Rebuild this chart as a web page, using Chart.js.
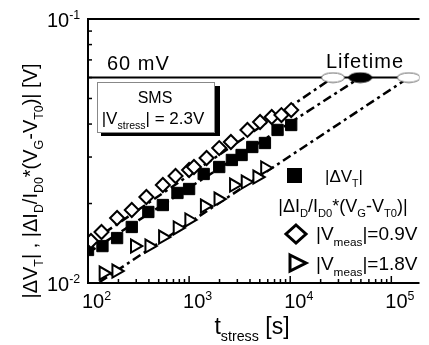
<!DOCTYPE html>
<html>
<head>
<meta charset="utf-8">
<script src="https://cdn.jsdelivr.net/npm/chart.js@4"></script>
<style>
  html, body { margin: 0; padding: 0; background: #fff; }
  #wrap { width: 429px; height: 345px; }
</style>
</head>
<body>
<div id="wrap"><canvas id="chart" width="429" height="345"></canvas></div>
<script>
// stress time [s] and degradation [V]
const tDiamond = [107, 136, 194, 271, 378, 550, 734, 1000, 1117, 1489, 1986, 2590, 3775, 5034, 6566, 8190, 10230];
const vDiamond = [0.01442, 0.0156, 0.01763, 0.0189, 0.02117, 0.0235, 0.02543, 0.0268, 0.0275, 0.02975, 0.03245, 0.0342, 0.038, 0.04073, 0.04254, 0.04327, 0.0452];

const tSquare = [100, 139, 194, 271, 395, 550, 767, 1000, 1394, 1986, 2649, 3305, 4217, 5623, 7499, 10230];
const vSquare = [0.01334, 0.0138, 0.0148, 0.0163, 0.01858, 0.01974, 0.02193, 0.0227, 0.02588, 0.0275, 0.02924, 0.03054, 0.03275, 0.03391, 0.038, 0.03967];

const tTriangle = [142, 190, 290, 403, 550, 767, 1000, 1425, 1943, 2768, 3610, 4710, 5623];
const vTriangle = [0.01091, 0.0111, 0.0138, 0.0138, 0.01493, 0.01616, 0.01733, 0.01957, 0.0208, 0.0235, 0.02413, 0.0252, 0.02728];

// extrapolated fits, ending at the lifetime criterion
const fitDiamondT = [100, 26490];
const fitDiamondV = [0.01406, 0.06];
const fitSquareT = [100, 49230];
const fitSquareV = [0.0130, 0.06];
const fitTriangleT = [130, 148900];
const fitTriangleV = [0.01008, 0.06];

const lifetimeT = [26490, 49230, 148900];
const lifetimeV = [0.06, 0.06, 0.06];
const lifetimeFilled = [false, true, false];

const criterionT = [100, 190000];
const criterionV = [0.06, 0.06];

const xTicks = [100, 1000, 10000, 100000];
const xTickExp = ['2', '3', '4', '5'];
const yTicks = [0.1, 0.01];
const yTickExp = ['-1', '-2'];

const FONT = 'Arial, "Liberation Sans", Helvetica, sans-serif';

const pts = (xs, ys) => xs.map((x, i) => ({ x: x, y: ys[i] }));

function ellipseImg(filled) {
    const c = document.createElement('canvas');
    c.width = 26; c.height = 12;
    const g = c.getContext('2d');
    g.beginPath();
    g.ellipse(13, 6, 11.5, 4.8, 0, 0, Math.PI * 2);
    g.fillStyle = filled ? '#000' : '#fff';
    g.fill();
    g.lineWidth = 1;
    g.strokeStyle = filled ? '#000' : '#666';
    g.stroke();
    return c;
}
const openEllipse = ellipseImg(false);
const fullEllipse = ellipseImg(true);

// draw text with sub/superscripts; parts: [text, mode] mode: 0 normal, 1 sub, 2 sup
function richWidth(ctx, parts, size) {
    let w = 0;
    parts.forEach(p => {
        const s = p[1] ? size * 0.62 : size;
        ctx.font = s + 'px ' + FONT;
        w += ctx.measureText(p[0]).width;
    });
    return w;
}
function drawRich(ctx, parts, x, y, size, align) {
    const w = richWidth(ctx, parts, size);
    let cx = align === 'center' ? x - w / 2 : (align === 'right' ? x - w : x);
    ctx.textBaseline = 'alphabetic';
    ctx.textAlign = 'left';
    parts.forEach(p => {
        const s = p[1] ? size * 0.62 : size;
        ctx.font = s + 'px ' + FONT;
        let dy = 0;
        if (p[1] === 1) dy = size * 0.3;
        if (p[1] === 2) dy = -size * 0.42;
        ctx.fillText(p[0], cx, y + dy);
        cx += ctx.measureText(p[0]).width;
    });
}

const decorations = {
    id: 'decorations',
    afterDraw(chart) {
        const ctx = chart.ctx;
        const xs = chart.scales.x, ys = chart.scales.y;
        const a = chart.chartArea;
        ctx.save();
        ctx.fillStyle = '#000';
        ctx.strokeStyle = '#000';

        // frame: left, bottom, top
        ctx.lineWidth = 2;
        ctx.beginPath();
        ctx.moveTo(a.right, a.top); ctx.lineTo(a.left, a.top);
        ctx.lineTo(a.left, a.bottom); ctx.lineTo(a.right, a.bottom);
        ctx.stroke();

        // x ticks (inside)
        ctx.lineWidth = 1.5;
        for (let d = 2; d <= 5; d++) {
            for (let m = 1; m <= 9; m++) {
                const v = m * Math.pow(10, d);
                if (v > xs.max) continue;
                const px = xs.getPixelForValue(v);
                const len = m === 1 ? 7 : 4;
                ctx.beginPath();
                ctx.moveTo(px, a.bottom); ctx.lineTo(px, a.bottom - len);
                ctx.stroke();
            }
        }
        // y ticks (inside)
        for (let m = 1; m <= 9; m++) {
            const py = ys.getPixelForValue(m * 0.01);
            ctx.beginPath();
            ctx.moveTo(a.left, py); ctx.lineTo(a.left + (m === 1 ? 7 : 4), py);
            ctx.stroke();
        }

        // tick labels
        xTicks.forEach((v, i) => {
            const px = xs.getPixelForValue(v);
            drawRich(ctx, [['10', 0], [xTickExp[i], 2]], px - 6, 308, 20, 'left');
        });
        yTicks.forEach((v, i) => {
            const py = ys.getPixelForValue(v);
            drawRich(ctx, [['10', 0], [yTickExp[i], 2]], 47, py + 8, 20, 'left');
        });

        // axis titles
        drawRich(ctx, [['t', 0], ['stress', 1], [' [s]', 0]], 252, 334, 23, 'center');
        ctx.save();
        ctx.translate(37, 181);
        ctx.rotate(-Math.PI / 2);
        drawRich(ctx, [['|ΔV', 0], ['T', 1], ['| , |ΔI', 0], ['D', 1], ['/I', 0], ['D0', 1], ['*(V', 0], ['G', 1], ['-V', 0], ['T0', 1], [')| [V]', 0]], 0, 0, 20, 'center');
        ctx.restore();

        // annotations
        ctx.letterSpacing = '1px';
        drawRich(ctx, [['60 mV', 0]], 107, 70, 20, 'left');
        drawRich(ctx, [['Lifetime', 0]], 365, 68, 20, 'center');
        ctx.letterSpacing = '0px';

        // SMS box with shadow
        ctx.fillRect(101, 86, 119, 50);
        ctx.fillStyle = '#fff';
        ctx.fillRect(97, 82, 118, 51);
        ctx.strokeStyle = '#888';
        ctx.lineWidth = 1;
        ctx.strokeRect(97.5, 82.5, 117, 50);
        ctx.fillStyle = '#000';
        drawRich(ctx, [['SMS', 0]], 155, 103, 16, 'center');
        drawRich(ctx, [['|V', 0], ['stress', 1], ['| = 2.3V', 0]], 153, 124, 17, 'center');

        // legend
        ctx.fillRect(287, 168, 15, 15);
        drawRich(ctx, [['|ΔV', 0], ['T', 1], ['|', 0]], 325, 182, 17, 'left');
        drawRich(ctx, [['|ΔI', 0], ['D', 1], ['/I', 0], ['D0', 1], ['*(V', 0], ['G', 1], ['-V', 0], ['T0', 1], [')|', 0]], 343, 212, 18, 'center');

        ctx.lineWidth = 3;
        ctx.strokeStyle = '#000';
        ctx.beginPath();
        ctx.moveTo(296, 225); ctx.lineTo(306, 234); ctx.lineTo(296, 243); ctx.lineTo(286, 234); ctx.closePath();
        ctx.stroke();
        drawRich(ctx, [['|V', 0], ['meas', 1], ['|=0.9V', 0]], 316, 240, 19, 'left');

        ctx.beginPath();
        ctx.moveTo(290, 255); ctx.lineTo(306, 263); ctx.lineTo(290, 271); ctx.closePath();
        ctx.stroke();
        drawRich(ctx, [['|V', 0], ['meas', 1], ['|=1.8V', 0]], 316, 270, 19, 'left');

        ctx.restore();
    }
};

const dashDot = [9, 4, 3, 4];

new Chart(document.getElementById('chart'), {
    type: 'scatter',
    data: {
        datasets: [
            {
                data: pts(lifetimeT, lifetimeV),
                pointStyle: lifetimeFilled.map(f => f ? fullEllipse : openEllipse),
                order: 0
            },
            {
                data: pts(tDiamond, vDiamond),
                pointStyle: 'rectRot', pointRadius: 7,
                pointBackgroundColor: '#fff', pointBorderColor: '#000', pointBorderWidth: 2,
                order: 1
            },
            {
                data: pts(tSquare, vSquare),
                pointStyle: 'rect', pointRadius: 8,
                pointBackgroundColor: '#000', pointBorderColor: '#000', pointBorderWidth: 1,
                order: 1
            },
            {
                data: pts(tTriangle, vTriangle),
                pointStyle: 'triangle', pointRotation: 90, pointRadius: 7.5,
                pointBackgroundColor: '#fff', pointBorderColor: '#000', pointBorderWidth: 2,
                order: 1
            },
            {
                data: pts(fitDiamondT, fitDiamondV), showLine: true, pointRadius: 0,
                borderColor: '#000', borderWidth: 2.5, borderDash: dashDot, order: 2
            },
            {
                data: pts(fitSquareT, fitSquareV), showLine: true, pointRadius: 0,
                borderColor: '#000', borderWidth: 2.5, borderDash: dashDot, order: 2
            },
            {
                data: pts(fitTriangleT, fitTriangleV), showLine: true, pointRadius: 0,
                borderColor: '#000', borderWidth: 2.5, borderDash: dashDot, order: 2
            },
            {
                data: pts(criterionT, criterionV), showLine: true, pointRadius: 0,
                borderColor: '#000', borderWidth: 2, order: 3
            }
        ]
    },
    options: {
        responsive: false,
        animation: false,
        devicePixelRatio: 1,
        layout: { padding: { left: 88, top: 19, right: 0, bottom: 62 } },
        scales: {
            x: { type: 'logarithmic', min: 100, max: 190000, display: false },
            y: { type: 'logarithmic', min: 0.01, max: 0.1, display: false }
        },
        plugins: { legend: { display: false }, tooltip: { enabled: false } }
    },
    plugins: [decorations]
});
</script>
</body>
</html>
